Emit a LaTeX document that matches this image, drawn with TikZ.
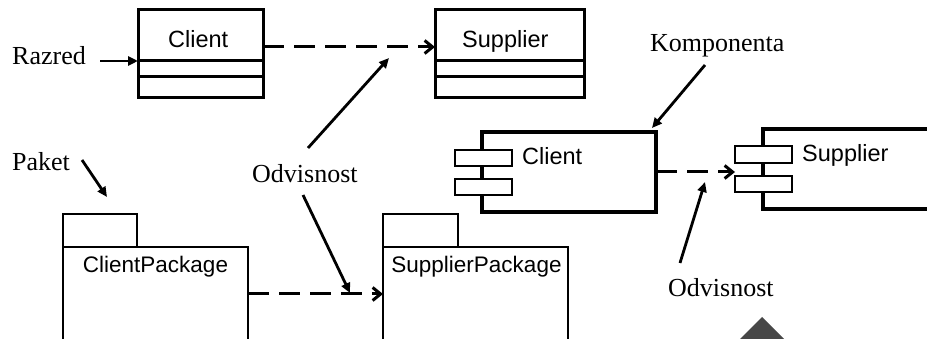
\documentclass[tikz,border=0pt]{standalone}
\usepackage{fontspec}
\setmainfont{Liberation Serif}
\setsansfont{Liberation Sans}
\usetikzlibrary{arrows.meta}
\definecolor{trigray}{HTML}{474747}
\begin{document}
\begin{tikzpicture}[x=1pt,y=-1pt,
  umlbox/.style={draw, line width=3pt, fill=white, inner sep=0pt, outer sep=0pt},
  smallrect/.style={draw, line width=2.5pt, fill=white, inner sep=0pt, outer sep=0pt, minimum width=57pt, minimum height=16pt},
  pkgbox/.style={draw, line width=2.6pt, fill=white, inner sep=0pt, outer sep=0pt},
  sanslbl/.style={font=\fontsize{23.5}{26}\sffamily, inner sep=0pt},
  pkglbl/.style={font=\fontsize{22.5}{25}\sffamily, inner sep=0pt},
  seriflbl/.style={font=\fontsize{26}{30}\selectfont, inner sep=0pt, anchor=base west},
  dep/.style={line width=3pt, dash pattern=on 21pt off 10pt, -{Straight Barb[length=8pt,width=13pt]}},
  pointer/.style={line width=2.8pt, -{Triangle[length=10pt,width=9pt]}},
  divider/.style={line width=3pt}
]
\useasboundingbox (0,0) rectangle (927,339);
\clip (0,0) rectangle (927,339);

% class Client
\node[umlbox, minimum width=125pt, minimum height=88pt] (cc) at (200.5,54) {};
\draw[divider] ([yshift=-51pt]cc.north west) -- ([yshift=-51pt]cc.north east);
\draw[divider] ([yshift=-67pt]cc.north west) -- ([yshift=-67pt]cc.north east);
\node[sanslbl, anchor=base west] (cct) at (168,48) {Client};

% class Supplier
\node[umlbox, minimum width=149pt, minimum height=88pt] (sc) at (509.5,54) {};
\draw[divider] ([yshift=-51pt]sc.north west) -- ([yshift=-51pt]sc.north east);
\draw[divider] ([yshift=-67pt]sc.north west) -- ([yshift=-67pt]sc.north east);
\node[sanslbl, anchor=base west] (sct) at (462,48) {Supplier};

\draw[dep] ([yshift=7pt]cc.east) -- ([yshift=7pt]sc.west);

% component Client
\node[umlbox, line width=3.2pt, minimum width=174pt, minimum height=80pt] (cl) at (569,172) {};
\node[smallrect] (cl1) at (483.5,158) {};
\node[smallrect] (cl2) at (483.5,187) {};
\node[sanslbl, anchor=base west] (clt) at (522,165) {Client};

% component Supplier
\node[umlbox, line width=3.2pt, minimum width=237pt, minimum height=80pt] (sp) at (881.5,169) {};
\node[smallrect, minimum height=17pt] (sp1) at (763.5,154.5) {};
\node[smallrect] (sp2) at (763.5,184) {};
\node[sanslbl, anchor=base west] (spt) at (802,162) {Supplier};

\draw[dep] (cl.east) -- (cl.east -| sp1.west);

% packages
\node[pkgbox, minimum width=74pt, minimum height=33pt] (cpt) at (100,230.5) {};
\node[pkgbox, minimum width=185pt, minimum height=173pt] (cpb) at (155.5,333.5) {};
\node[pkglbl, anchor=base] (cptx) at (155.5,273) {ClientPackage};

\node[pkgbox, minimum width=75pt, minimum height=33pt] (spkt) at (420.5,230.5) {};
\node[pkgbox, minimum width=185pt, minimum height=173pt] (spb) at (475.5,333.5) {};
\node[pkglbl, anchor=base] (spbx) at (476.5,273) {SupplierPackage};

\draw[dep] ([yshift=-47pt]cpb.north east) -- ([yshift=-47pt]spb.north west);

% labels
\node[seriflbl] (razred) at (12,65) {Razred};
\coordinate (razA) at (100,61);
\draw[pointer] (razA) -- ([yshift=-7pt]cc.west);

\node[seriflbl] (paket) at (12,171) {Paket};
\coordinate (pakA) at (82,160);
\coordinate (pakB) at (107,197);
\draw[pointer] (pakA) -- (pakB);

\node[seriflbl] (odv1) at (252,183) {Odvisnost};
\coordinate (odvA) at (308,148);
\coordinate (odvB) at (389,58);
\coordinate (odvC) at (303,195);
\coordinate (odvD) at (350,293);
\draw[pointer] (odvA) -- (odvB);
\draw[pointer] (odvC) -- (odvD);

\node[seriflbl] (komp) at (650,52) {Komponenta};
\coordinate (kompA) at (705,65);
\coordinate (kompB) at (652,128);
\draw[pointer] (kompA) -- (kompB);

\node[seriflbl] (odv2) at (668,297) {Odvisnost};
\coordinate (odv2A) at (680,263);
\coordinate (odv2B) at (705,182);
\draw[pointer] (odv2A) -- (odv2B);

% grey triangle
\fill[trigray] (762,317) -- (790,345) -- (734,345) -- cycle;
\end{tikzpicture}
\end{document}
